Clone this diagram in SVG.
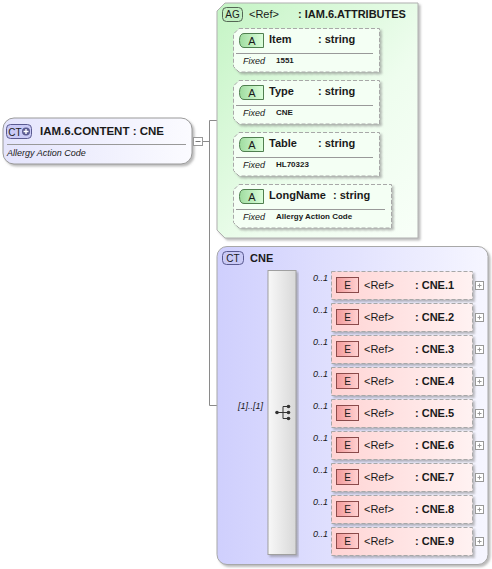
<svg xmlns="http://www.w3.org/2000/svg" width="492" height="569" viewBox="0 0 492 569">
<defs>
<linearGradient id="gMain" x1="0" y1="0" x2="1" y2="0"><stop offset="0" stop-color="#e4e4fc"/><stop offset="1" stop-color="#fbfbff"/></linearGradient>
<linearGradient id="gAG" x1="0" y1="0" x2="1" y2="1"><stop offset="0" stop-color="#c4f4c4"/><stop offset="0.6" stop-color="#eefdee"/><stop offset="1" stop-color="#f8fff8"/></linearGradient>
<linearGradient id="gCT" x1="0" y1="0" x2="1" y2="0"><stop offset="0" stop-color="#cfcffd"/><stop offset="1" stop-color="#f6f6ff"/></linearGradient>
<linearGradient id="gSeq" x1="0" y1="0" x2="1" y2="0"><stop offset="0" stop-color="#f8f8f8"/><stop offset="1" stop-color="#d8d8d8"/></linearGradient>
<linearGradient id="gEl" x1="0" y1="0" x2="1" y2="0"><stop offset="0" stop-color="#ffd4d4"/><stop offset="1" stop-color="#fff2f2"/></linearGradient>
<linearGradient id="gE" x1="0" y1="0" x2="1" y2="0"><stop offset="0" stop-color="#f29a9a"/><stop offset="1" stop-color="#ffd2d2"/></linearGradient>
<linearGradient id="gA" x1="0" y1="0" x2="1" y2="0"><stop offset="0" stop-color="#9fdc9f"/><stop offset="1" stop-color="#dcffdc"/></linearGradient>
<filter id="sh" x="-5%" y="-5%" width="115%" height="115%"><feDropShadow dx="2" dy="2" stdDeviation="1" flood-color="#777" flood-opacity="0.5"/></filter>
</defs>
<style>
text{font-family:"Liberation Sans",Arial,sans-serif;fill:#1a1a1a}
.b{font-weight:bold;font-size:11px}
.r{font-size:11px}
.fx{font-style:italic;font-size:9px}
.fv{font-weight:bold;font-size:8px}
.occ{font-style:italic;font-size:9px}
.ln{stroke:#8a8a8a;stroke-width:1;fill:none}
.attr{fill:#f4fff4;stroke:#a8a8a8;stroke-dasharray:4,2}
.el{fill:url(#gEl);stroke:#a8a8a8;stroke-dasharray:4,2}
.sep{stroke:#999;stroke-width:1}
.ico{font-size:10px;text-anchor:middle}
.pm{fill:#fff;stroke:#999}
</style>

<g id="connectors">
<path class="ln" d="M203,141.5 H209.5 M209.5,120.5 V405.5 H217 M209.5,120.5 H227.5"/>
<path class="ln" d="M217,412.5 H268"/>
<path class="ln" d="M227.5,48.5 V204.5 M227.5,48.5 H233 M227.5,100.5 H233 M227.5,152.5 H233 M227.5,204.5 H233"/>
<path class="ln" d="M296,285.5 H331 M296,317.5 H331 M296,349.5 H331 M296,381.5 H331 M296,413.5 H331 M296,445.5 H331 M296,477.5 H331 M296,509.5 H331 M296,541.5 H331"/>
</g>

<g id="main">
<rect x="3" y="118" width="189" height="46" rx="11" fill="url(#gMain)" stroke="#9a9a9a" filter="url(#sh)"/>
<line class="sep" x1="7" y1="144.5" x2="186" y2="144.5"/>
<rect x="6.5" y="124.5" width="25" height="14" rx="4" fill="#cacaf6" stroke="#5a5a90"/>
<text x="15" y="135.5" class="ico" style="font-size:10px">CT</text>
<circle cx="26" cy="131.5" r="4" fill="#5a5a90"/>
<path d="M23.5,131.5 H28.5 M26,129 V134" stroke="#fff" stroke-width="1.4"/>
<text x="40" y="135" class="b" style="font-size:11.5px">IAM.6.CONTENT : CNE</text>
<text x="7" y="156" class="fx" style="font-size:9px">Allergy Action Code</text>
<rect class="pm" x="193.5" y="137.5" width="9" height="8"/>
<path d="M195.5,141.5 H200.5" stroke="#777"/>
</g>

<g id="attributes">
<path d="M225,3 H418 V238 H225 L217,230 V11 Z" fill="url(#gAG)" stroke="#b0b0b0" filter="url(#sh)"/>
<rect x="222.5" y="7.5" width="20" height="14" rx="4" fill="#c2f0c2" stroke="#556655"/>
<text x="232.5" y="18" class="ico">AG</text>
<text x="249" y="18" class="r">&lt;Ref&gt;</text>
<text x="298" y="18" class="b">: IAM.6.ATTRIBUTES</text>
</g>

<g id="attr-item">
<path class="attr" d="M239,28.5 H379.5 V72 H239 L233.5,66.5 V34 Z" filter="url(#sh)"/>
<path d="M244,33.5 H263.5 V47.5 H244 Q239.5,47.5 239.5,40.5 Q239.5,33.5 244,33.5 Z" fill="url(#gA)" stroke="#4f7f4f"/>
<text x="252" y="45" class="ico" style="font-size:11px">A</text>
<text x="269" y="43" class="b">Item</text>
<text x="318" y="43" class="b">: string</text>
<line class="sep" x1="236" y1="53.5" x2="373" y2="53.5"/>
<text x="243" y="64" class="fx">Fixed</text>
<text x="276" y="63" class="fv">1551</text>
</g>

<g id="attr-type">
<path class="attr" d="M239,80.5 H379.5 V124 H239 L233.5,118.5 V86 Z" filter="url(#sh)"/>
<path d="M244,85.5 H263.5 V99.5 H244 Q239.5,99.5 239.5,92.5 Q239.5,85.5 244,85.5 Z" fill="url(#gA)" stroke="#4f7f4f"/>
<text x="252" y="97" class="ico" style="font-size:11px">A</text>
<text x="269" y="95" class="b">Type</text>
<text x="318" y="95" class="b">: string</text>
<line class="sep" x1="236" y1="105.5" x2="373" y2="105.5"/>
<text x="243" y="116" class="fx">Fixed</text>
<text x="276" y="115" class="fv">CNE</text>
</g>

<g id="attr-table">
<path class="attr" d="M239,132.5 H379.5 V176 H239 L233.5,170.5 V138 Z" filter="url(#sh)"/>
<path d="M244,137.5 H263.5 V151.5 H244 Q239.5,151.5 239.5,144.5 Q239.5,137.5 244,137.5 Z" fill="url(#gA)" stroke="#4f7f4f"/>
<text x="252" y="149" class="ico" style="font-size:11px">A</text>
<text x="269" y="147" class="b">Table</text>
<text x="318" y="147" class="b">: string</text>
<line class="sep" x1="236" y1="157.5" x2="373" y2="157.5"/>
<text x="243" y="168" class="fx">Fixed</text>
<text x="276" y="167" class="fv">HL70323</text>
</g>

<g id="attr-longname">
<path class="attr" d="M239,184.5 H391.5 V228 H239 L233.5,222.5 V190 Z" filter="url(#sh)"/>
<path d="M244,189.5 H263.5 V203.5 H244 Q239.5,203.5 239.5,196.5 Q239.5,189.5 244,189.5 Z" fill="url(#gA)" stroke="#4f7f4f"/>
<text x="252" y="201" class="ico" style="font-size:11px">A</text>
<text x="269" y="199" class="b">LongName</text>
<text x="333" y="199" class="b">: string</text>
<line class="sep" x1="236" y1="209.5" x2="385" y2="209.5"/>
<text x="243" y="220" class="fx">Fixed</text>
<text x="276" y="219" class="fv">Allergy Action Code</text>
</g>

<g id="cne">
<rect x="217" y="246.5" width="271" height="318" rx="10" fill="url(#gCT)" stroke="#a8a8a8" filter="url(#sh)"/>
<rect x="222.5" y="251.5" width="21" height="13" rx="4" fill="#cacaf6" stroke="#5a5a90"/>
<text x="233" y="261.5" class="ico">CT</text>
<text x="250" y="262" class="b">CNE</text>
<text x="263" y="409" class="occ" text-anchor="end">[1]..[1]</text>
</g>

<g id="sequence">
<rect x="268" y="270.5" width="28" height="284" fill="url(#gSeq)" stroke="#a0a0a0" filter="url(#sh)"/>
<circle cx="277" cy="412.5" r="1.8" fill="#333"/>
<path d="M277,412.5 H283 M283,406.5 V418.5 M283,406.5 H288 M283,412.5 H288 M283,418.5 H288" stroke="#333" stroke-width="1"/>
<circle cx="288.5" cy="406.5" r="1.8" fill="#333"/>
<circle cx="288.5" cy="412.5" r="1.8" fill="#333"/>
<circle cx="288.5" cy="418.5" r="1.8" fill="#333"/>
</g>

<g id="cne1" transform="translate(0,0)">
<text x="313" y="281" class="occ">0..1</text>
<rect class="el" x="331.5" y="271.5" width="141" height="28" filter="url(#sh)"/>
<rect x="336.5" y="277.5" width="22" height="15" fill="url(#gE)" stroke="#8a4a4a"/>
<text x="347.5" y="289" class="ico" style="font-size:10px">E</text>
<text x="364" y="289" class="r">&lt;Ref&gt;</text>
<text x="415" y="289" class="b">: CNE.1</text>
<rect class="pm" x="475.5" y="281.5" width="8" height="8"/>
<path d="M477.5,285.5 H481.5 M479.5,283.5 V487.5" stroke="#999" style="display:none"/>
<path d="M477.5,285.5 H481.5 M479.5,283.5 V287.5" stroke="#999"/>
</g>
<g id="cne2" transform="translate(0,32)">
<text x="313" y="281" class="occ">0..1</text>
<rect class="el" x="331.5" y="271.5" width="141" height="28" filter="url(#sh)"/>
<rect x="336.5" y="277.5" width="22" height="15" fill="url(#gE)" stroke="#8a4a4a"/>
<text x="347.5" y="289" class="ico">E</text>
<text x="364" y="289" class="r">&lt;Ref&gt;</text>
<text x="415" y="289" class="b">: CNE.2</text>
<rect class="pm" x="475.5" y="281.5" width="8" height="8"/>
<path d="M477.5,285.5 H481.5 M479.5,283.5 V287.5" stroke="#999"/>
</g>
<g id="cne3" transform="translate(0,64)">
<text x="313" y="281" class="occ">0..1</text>
<rect class="el" x="331.5" y="271.5" width="141" height="28" filter="url(#sh)"/>
<rect x="336.5" y="277.5" width="22" height="15" fill="url(#gE)" stroke="#8a4a4a"/>
<text x="347.5" y="289" class="ico">E</text>
<text x="364" y="289" class="r">&lt;Ref&gt;</text>
<text x="415" y="289" class="b">: CNE.3</text>
<rect class="pm" x="475.5" y="281.5" width="8" height="8"/>
<path d="M477.5,285.5 H481.5 M479.5,283.5 V287.5" stroke="#999"/>
</g>
<g id="cne4" transform="translate(0,96)">
<text x="313" y="281" class="occ">0..1</text>
<rect class="el" x="331.5" y="271.5" width="141" height="28" filter="url(#sh)"/>
<rect x="336.5" y="277.5" width="22" height="15" fill="url(#gE)" stroke="#8a4a4a"/>
<text x="347.5" y="289" class="ico">E</text>
<text x="364" y="289" class="r">&lt;Ref&gt;</text>
<text x="415" y="289" class="b">: CNE.4</text>
<rect class="pm" x="475.5" y="281.5" width="8" height="8"/>
<path d="M477.5,285.5 H481.5 M479.5,283.5 V287.5" stroke="#999"/>
</g>
<g id="cne5" transform="translate(0,128)">
<text x="313" y="281" class="occ">0..1</text>
<rect class="el" x="331.5" y="271.5" width="141" height="28" filter="url(#sh)"/>
<rect x="336.5" y="277.5" width="22" height="15" fill="url(#gE)" stroke="#8a4a4a"/>
<text x="347.5" y="289" class="ico">E</text>
<text x="364" y="289" class="r">&lt;Ref&gt;</text>
<text x="415" y="289" class="b">: CNE.5</text>
<rect class="pm" x="475.5" y="281.5" width="8" height="8"/>
<path d="M477.5,285.5 H481.5 M479.5,283.5 V287.5" stroke="#999"/>
</g>
<g id="cne6" transform="translate(0,160)">
<text x="313" y="281" class="occ">0..1</text>
<rect class="el" x="331.5" y="271.5" width="141" height="28" filter="url(#sh)"/>
<rect x="336.5" y="277.5" width="22" height="15" fill="url(#gE)" stroke="#8a4a4a"/>
<text x="347.5" y="289" class="ico">E</text>
<text x="364" y="289" class="r">&lt;Ref&gt;</text>
<text x="415" y="289" class="b">: CNE.6</text>
<rect class="pm" x="475.5" y="281.5" width="8" height="8"/>
<path d="M477.5,285.5 H481.5 M479.5,283.5 V287.5" stroke="#999"/>
</g>
<g id="cne7" transform="translate(0,192)">
<text x="313" y="281" class="occ">0..1</text>
<rect class="el" x="331.5" y="271.5" width="141" height="28" filter="url(#sh)"/>
<rect x="336.5" y="277.5" width="22" height="15" fill="url(#gE)" stroke="#8a4a4a"/>
<text x="347.5" y="289" class="ico">E</text>
<text x="364" y="289" class="r">&lt;Ref&gt;</text>
<text x="415" y="289" class="b">: CNE.7</text>
<rect class="pm" x="475.5" y="281.5" width="8" height="8"/>
<path d="M477.5,285.5 H481.5 M479.5,283.5 V287.5" stroke="#999"/>
</g>
<g id="cne8" transform="translate(0,224)">
<text x="313" y="281" class="occ">0..1</text>
<rect class="el" x="331.5" y="271.5" width="141" height="28" filter="url(#sh)"/>
<rect x="336.5" y="277.5" width="22" height="15" fill="url(#gE)" stroke="#8a4a4a"/>
<text x="347.5" y="289" class="ico">E</text>
<text x="364" y="289" class="r">&lt;Ref&gt;</text>
<text x="415" y="289" class="b">: CNE.8</text>
<rect class="pm" x="475.5" y="281.5" width="8" height="8"/>
<path d="M477.5,285.5 H481.5 M479.5,283.5 V287.5" stroke="#999"/>
</g>
<g id="cne9" transform="translate(0,256)">
<text x="313" y="281" class="occ">0..1</text>
<rect class="el" x="331.5" y="271.5" width="141" height="28" filter="url(#sh)"/>
<rect x="336.5" y="277.5" width="22" height="15" fill="url(#gE)" stroke="#8a4a4a"/>
<text x="347.5" y="289" class="ico">E</text>
<text x="364" y="289" class="r">&lt;Ref&gt;</text>
<text x="415" y="289" class="b">: CNE.9</text>
<rect class="pm" x="475.5" y="281.5" width="8" height="8"/>
<path d="M477.5,285.5 H481.5 M479.5,283.5 V287.5" stroke="#999"/>
</g>
</svg>
